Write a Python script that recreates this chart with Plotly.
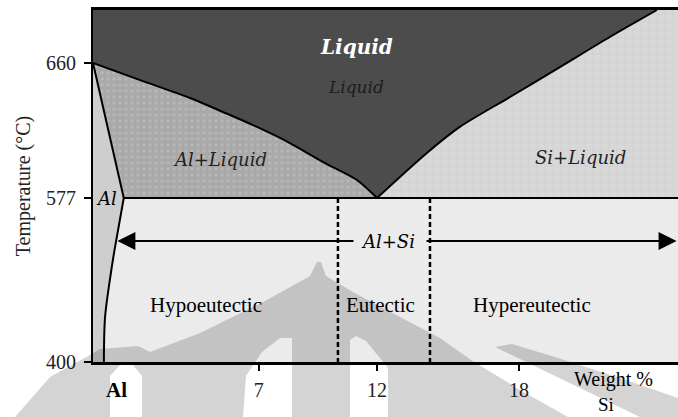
import numpy as np
import plotly.graph_objects as go

# ---- Al–Si binary phase diagram (schematic) ----
T_EUT = 577          # eutectic temperature, °C
X_EUT = 12           # eutectic composition, wt% Si
T_MIN = 400
T_TOP = 692.6
X_MAX = 24.72

# liquidus, Al-rich side
liq_al_x = [0, 1.99, 4.10, 5.49, 6.93, 8.32, 9.72, 11.15, 12.0]
liq_al_t = [660, 649.5, 638.5, 629.9, 620.7, 610.8, 599.1, 588.1, 577]
# liquidus, Si-rich side
liq_si_x = [12.0, 14.11, 15.5, 17.62, 19.73, 21.84, 23.83]
liq_si_t = [577, 604.7, 620.7, 639.1, 657.5, 676.0, 692.6]
# solidus of (Al)
sol_x = [0, 1.3]
sol_t = [660, 577]
# solvus of (Al)
solv_x = [1.3, 1.06, 0.84, 0.51, 0.46]
solv_t = [577, 542.5, 510.1, 448.6, 400]
# limits of the eutectic composition band
band_x = [10.35, 14.24]
# Al+Si two-phase arrow (tip on solvus, tails at the label)
arrow_t = 530.6
arrow_left = [1.03, 11.07]
arrow_right = [14.03, 24.66]

y_ticks = [400, 577, 660]
x_ticks = [7, 12, 18]

# the solid-state part of the temperature axis is drawn compressed
K = (164 / 177) / (135 / 83)


def tmap(t):
    t = np.asarray(t, float)
    return np.where(t >= T_EUT, t, T_EUT - (T_EUT - t) * K)


SERIF = "Liberation Serif, Times New Roman, serif"
SERIF_IT = "DejaVu Serif, serif"
fig = go.Figure()


def region(xs, ts, color, pattern=None):
    fig.add_trace(go.Scatter(
        x=xs, y=tmap(ts), fill="toself", fillcolor=color, mode="lines",
        line=dict(width=0), fillpattern=pattern, hoverinfo="skip",
        showlegend=False))


# Al + Si (below eutectic)
region(solv_x + [X_MAX, X_MAX], solv_t + [T_MIN, T_EUT], "#ececec",
       dict(shape="+", size=4, solidity=0.12, fgcolor="#dedede", bgcolor="#ececec"))
# (Al) solid solution
region(sol_x + solv_x[1:] + [0], sol_t + solv_t[1:] + [T_MIN], "#cecece")
# Al + Liquid
region(liq_al_x + [sol_x[1]], liq_al_t + [T_EUT], "#a9a9a9",
       dict(shape=".", size=6, solidity=0.25, fgcolor="#c6c6c6", bgcolor="#a9a9a9"))
# Liquid
region(liq_al_x + liq_si_x[1:] + [0], liq_al_t + liq_si_t[1:] + [T_TOP], "#4c4c4c")
# Si + Liquid
region(liq_si_x + [X_MAX, X_MAX], liq_si_t + [T_TOP, T_EUT], "#d8d8d8",
       dict(shape="+", size=8, solidity=0.12, fgcolor="#bdbdbd", bgcolor="#d8d8d8"))


def line(xs, ts, width=2, dash=None, shape="linear"):
    fig.add_trace(go.Scatter(
        x=xs, y=tmap(ts), mode="lines",
        line=dict(color="black", width=width, dash=dash, shape=shape, smoothing=0.8),
        hoverinfo="skip", showlegend=False))


line(liq_al_x, liq_al_t, shape="spline")
line(liq_si_x, liq_si_t, shape="spline")
line(sol_x, sol_t)
line(solv_x, solv_t, shape="spline")
line([sol_x[1], X_MAX], [T_EUT, T_EUT], width=2.2)
for bx in band_x:
    line([bx, bx], [T_EUT, T_MIN], width=2.5, dash="5px,3px")

ay = float(tmap(arrow_t))
arrows = [
    dict(x=arrow_left[0], ax=arrow_left[1]),
    dict(x=arrow_right[1], ax=arrow_right[0]),
]
annotations = []
for a in arrows:
    annotations.append(dict(
        x=a["x"], y=ay, ax=a["ax"], ay=ay, xref="x", yref="y", axref="x", ayref="y",
        showarrow=True, arrowhead=2, arrowsize=2.0, arrowwidth=1.8,
        arrowcolor="black", text=""))


def px_to_paper(px, py):
    return (px - 93) / 585, (362 - py) / 352


def label(text, px, py, size=21, color="black", italic=False, weight="normal",
          yanchor="middle"):
    x, y = px_to_paper(px, py)
    annotations.append(dict(
        x=x, y=y, xref="paper", yref="paper", text=text, showarrow=False,
        xanchor="center", yanchor=yanchor,
        font=dict(family=SERIF_IT if italic else SERIF, size=size, color=color,
                  style="italic" if italic else "normal", weight=weight)))


label("Liquid", 356, 47, size=20, color="white", italic=True, weight="bold")
label("Liquid", 356, 87, size=17, color="#1c1c1c", italic=True)
label("Al+Liquid", 220, 159, size=18, color="#222222", italic=True)
label("Si+Liquid", 580, 157, size=18, color="#222222", italic=True)
label("Al", 106, 199, size=18, italic=True)
label("Al+Si", 388, 241, size=18, italic=True)
label("Hypoeutectic", 206, 305)
label("Eutectic", 380, 305)
label("Hypereutectic", 532, 305)
label("Al", 116, 390, weight="bold")
label("Weight %", 613, 380, size=20)
label("Si", 606, 417, size=19, yanchor="bottom")


# faint emblem printed across the lower part of the page
def path_of(*rings):
    parts = []
    for ring in rings:
        pts = [px_to_paper(px, py) for px, py in ring]
        parts.append("M " + " L ".join(f"{x:.4f},{y:.4f}" for x, y in pts) + " Z")
    return " ".join(parts)


emblem_outer = [(15, 417), (50, 377), (90, 355), (100, 349), (138, 346), (150, 352),
                (200, 333), (267, 300), (310, 276), (317, 262), (321, 262), (326, 276),
                (353, 292), (400, 317), (440, 338), (471, 360), (520, 390), (568, 417)]
emblem_hole1 = [(110, 417), (110, 376), (120, 365), (133, 365), (142, 376), (142, 417)]
emblem_hole2 = [(243, 417), (246, 376), (262, 352), (280, 338), (292, 338), (292, 417)]
emblem_hole3 = [(350, 417), (350, 340), (356, 336), (366, 341), (388, 368), (388, 417)]
emblem_band = [(495, 347), (512, 344), (555, 357), (620, 378), (678, 398), (678, 417),
               (640, 417)]

shapes = [
    dict(type="path", xref="paper", yref="paper",
         path=path_of(emblem_outer, emblem_hole1, emblem_hole2, emblem_hole3),
         fillcolor="rgba(0,0,0,0.17)", line=dict(width=0), layer="above",
         fillrule="evenodd"),
    dict(type="path", xref="paper", yref="paper", path=path_of(emblem_band),
         fillcolor="rgba(0,0,0,0.17)", line=dict(width=0), layer="above"),
]

fig.update_layout(
    width=678, height=417,
    margin=dict(l=93, r=0, t=10, b=55),
    paper_bgcolor="white", plot_bgcolor="white",
    font=dict(family=SERIF, size=20, color="black"),
    annotations=annotations, shapes=shapes,
    xaxis=dict(range=[0, X_MAX], tickvals=x_ticks, ticktext=[str(v) for v in x_ticks],
               ticks="outside", ticklen=6, tickwidth=2, tickcolor="black",
               showline=True, linewidth=2.5, linecolor="black", mirror=True,
               showgrid=False, zeroline=False, ticklabelstandoff=2,
               tickfont=dict(family=SERIF, size=20, color="#222")),
    yaxis=dict(range=[float(tmap(T_MIN)), T_TOP], tickvals=tmap(y_ticks).tolist(),
               ticktext=[str(v) for v in y_ticks],
               ticks="outside", ticklen=7, tickwidth=2, tickcolor="black",
               showline=True, linewidth=2, linecolor="black",
               showgrid=False, zeroline=False, ticklabelstandoff=4,
               tickfont=dict(family=SERIF, size=20, color="#222"),
               title=dict(text="Temperature (°C)", standoff=10,
                          font=dict(family=SERIF, size=20, color="#222"))),
)

fig.write_html("out.html")
